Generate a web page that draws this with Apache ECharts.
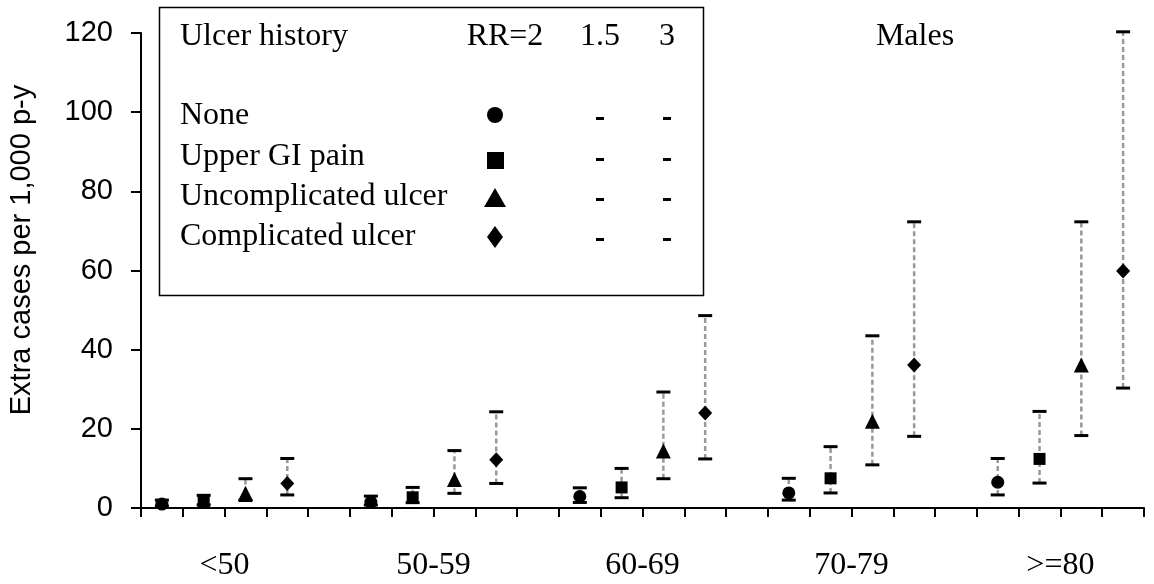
<!DOCTYPE html>
<html>
<head>
<meta charset="utf-8">
<script src="https://cdn.jsdelivr.net/npm/echarts@6/dist/echarts.min.js"></script>
<style>
  html, body { margin: 0; padding: 0; background: #fff; }
  #chart { width: 1154px; height: 584px; }
</style>
</head>
<body>
<div id="chart"></div>
<script>
// age groups along the x axis (4 slots each, one empty slot between groups)
const ageGroups = ['<50', '50-59', '60-69', '70-79', '>=80'];
const ulcerTypes = ['None', 'Upper GI pain', 'Uncomplicated ulcer', 'Complicated ulcer'];
const yTicks = [0, 20, 40, 60, 80, 100, 120];

// extra cases per 1,000 p-y: RR=2 (marker), RR=1.5 (lower cap), RR=3 (upper cap)
const noneRR2 = [1.0, 1.5, 2.9, 3.8, 6.5];
const noneRR15 = [0.5, 0.75, 1.4, 2.0, 3.3];
const noneRR3 = [2.0, 3.0, 5.1, 7.5, 12.5];

const upperGiRR2 = [1.6, 2.7, 5.2, 7.5, 12.4];
const upperGiRR15 = [0.8, 1.35, 2.6, 3.8, 6.3];
const upperGiRR3 = [3.2, 5.2, 10.0, 15.5, 24.4];

const uncompRR2 = [3.7, 7.2, 14.4, 21.9, 36.1];
const uncompRR15 = [1.9, 3.7, 7.4, 10.9, 18.3];
const uncompRR3 = [7.4, 14.5, 29.3, 43.5, 72.3];

const compRR2 = [6.2, 12.2, 24.0, 36.1, 59.9];
const compRR15 = [3.3, 6.2, 12.4, 18.1, 30.3];
const compRR3 = [12.5, 24.3, 48.6, 72.3, 120.3];

const rr2 = [noneRR2, upperGiRR2, uncompRR2, compRR2];
const rr15 = [noneRR15, upperGiRR15, uncompRR15, compRR15];
const rr3 = [noneRR3, upperGiRR3, uncompRR3, compRR3];
const symbols = ['circle', 'rect', 'triangle', 'diamond'];
const symbolSizes = [13, 12, [15, 15], [14, 15]];

const SLOTS = 5; // 4 ulcer types + 1 gap per age group
const serif = 'Liberation Serif';
const sans = 'Liberation Sans';

// x position of a point: group g, ulcer type t, centred in its slot
function slotX(g, t) {
  return g * SLOTS + t + 0.5;
}

// error bar rows [x, low, high]
const barRows = [];
ulcerTypes.forEach((_, t) => {
  ageGroups.forEach((_, g) => {
    barRows.push([slotX(g, t), rr15[t][g], rr3[t][g]]);
  });
});

function renderErrorBar(params, api) {
  const x = api.value(0);
  const lo = api.coord([x, api.value(1)]);
  const hi = api.coord([x, api.value(2)]);
  const half = 7;
  return {
    type: 'group',
    children: [
      {
        type: 'line',
        shape: { x1: lo[0], y1: lo[1], x2: hi[0], y2: hi[1] },
        style: { stroke: '#999', lineWidth: 2.5, lineDash: [5, 3] }
      },
      {
        type: 'line',
        shape: { x1: lo[0] - half, y1: lo[1], x2: lo[0] + half, y2: lo[1] },
        style: { stroke: '#000', lineWidth: 3 }
      },
      {
        type: 'line',
        shape: { x1: hi[0] - half, y1: hi[1], x2: hi[0] + half, y2: hi[1] },
        style: { stroke: '#000', lineWidth: 3 }
      }
    ]
  };
}

const pointSeries = ulcerTypes.map((name, t) => ({
  type: 'scatter',
  name,
  symbol: symbols[t],
  symbolSize: symbolSizes[t],
  itemStyle: { color: '#000', opacity: 1 },
  z: 5,
  data: ageGroups.map((_, g) => [slotX(g, t), rr2[t][g]])
}));

// legend table drawn as graphics
const legendRowsY = [116, 157, 197, 237];
const legendGraphics = [
  { type: 'rect', shape: { x: 159.5, y: 7.5, width: 544, height: 288 },
    style: { fill: '#fff', stroke: '#000', lineWidth: 1.5 } },
  { type: 'text', x: 180, y: 37, style: { text: 'Ulcer history', fontFamily: serif, fontSize: 32,
    fill: '#000', align: 'left', verticalAlign: 'middle' } },
  { type: 'text', x: 505, y: 37, style: { text: 'RR=2', fontFamily: serif, fontSize: 32,
    fill: '#000', align: 'center', verticalAlign: 'middle' } },
  { type: 'text', x: 600, y: 37, style: { text: '1.5', fontFamily: serif, fontSize: 32,
    fill: '#000', align: 'center', verticalAlign: 'middle' } },
  { type: 'text', x: 667, y: 37, style: { text: '3', fontFamily: serif, fontSize: 32,
    fill: '#000', align: 'center', verticalAlign: 'middle' } },
  { type: 'circle', shape: { cx: 495, cy: 115, r: 8 }, style: { fill: '#000' } },
  { type: 'rect', shape: { x: 487, y: 152, width: 17, height: 17 }, style: { fill: '#000' } },
  { type: 'polygon', shape: { points: [[484, 207], [506, 207], [495, 188]] }, style: { fill: '#000' } },
  { type: 'polygon', shape: { points: [[495, 226], [503, 237], [495, 248], [487, 237]] }, style: { fill: '#000' } }
];
ulcerTypes.forEach((name, i) => {
  legendGraphics.push({ type: 'text', x: 180, y: legendRowsY[i], style: { text: name,
    fontFamily: serif, fontSize: 32, fill: '#000', align: 'left', verticalAlign: 'middle' } });
  [600, 667].forEach(cx => {
    legendGraphics.push({ type: 'rect', shape: { x: cx - 4, y: legendRowsY[i] + 1, width: 8, height: 3 },
      style: { fill: '#000' } });
  });
});

const chart = echarts.init(document.getElementById('chart'), null, { renderer: 'canvas' });
chart.setOption({
  animation: false,
  backgroundColor: '#fff',
  grid: { left: 141, right: 10, top: 33, bottom: 76 },
  xAxis: {
    type: 'value',
    min: 0,
    max: ageGroups.length * SLOTS - 1,
    interval: 1,
    splitLine: { show: false },
    axisLine: { show: true, lineStyle: { color: '#000', width: 2 } },
    axisTick: { show: true, length: 9, lineStyle: { color: '#000', width: 2 } },
    axisLabel: {
      margin: 42,
      fontFamily: serif,
      fontSize: 32,
      color: '#000',
      showMinLabel: true,
      showMaxLabel: true,
      formatter: v => {
        const g = Math.round(v - 2) / SLOTS;
        return Number.isInteger(g) && g >= 0 && g < ageGroups.length ? ageGroups[g] : '';
      }
    }
  },
  yAxis: {
    type: 'value',
    min: yTicks[0],
    max: yTicks[yTicks.length - 1],
    interval: 20,
    splitLine: { show: false },
    axisLine: { show: true, lineStyle: { color: '#000', width: 2 } },
    axisTick: { show: true, length: 10, lineStyle: { color: '#000', width: 2 } },
    axisLabel: { margin: 28, fontFamily: sans, fontSize: 29, color: '#000' }
  },
  graphic: [
    ...legendGraphics,
    { type: 'text', x: 915, y: 37, style: { text: 'Males', fontFamily: serif, fontSize: 32,
      fill: '#000', align: 'center', verticalAlign: 'middle' } },
    { type: 'text', x: 22, y: 250, rotation: Math.PI / 2, style: { text: 'Extra cases per 1,000 p-y',
      fontFamily: sans, fontSize: 29, fill: '#000', align: 'center', verticalAlign: 'middle' } }
  ],
  series: [
    {
      type: 'custom',
      renderItem: renderErrorBar,
      encode: { x: 0, y: [1, 2] },
      z: 2,
      data: barRows
    },
    ...pointSeries
  ]
});
</script>
</body>
</html>
